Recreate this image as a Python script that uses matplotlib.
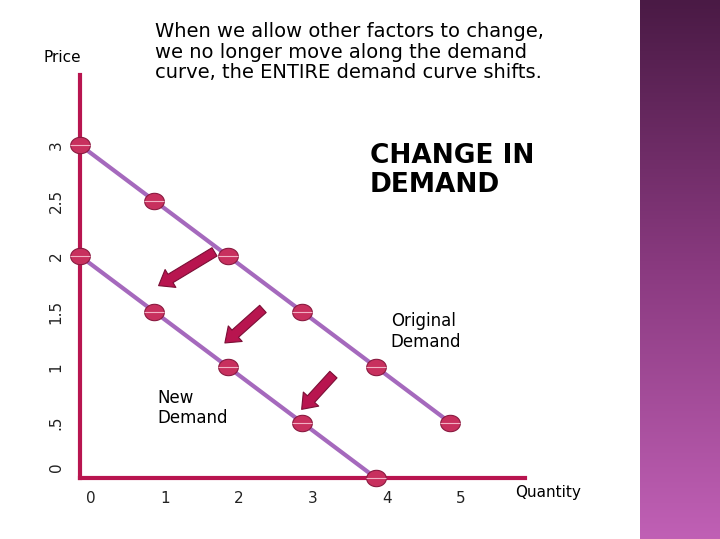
import numpy as np
import matplotlib
matplotlib.use("Agg")
from matplotlib import pyplot as plt
from matplotlib.path import Path

# DATA
orig_q = [0, 1, 2, 3, 4, 5]
orig_p = [3, 2.5, 2, 1.5, 1, 0.5]
new_q = [0, 1, 2, 3, 4]
new_p = [2, 1.5, 1, 0.5, 0]
x_ticks = [0, 1, 2, 3, 4, 5]
y_ticks = [0, 0.5, 1, 1.5, 2, 2.5, 3]
y_labels = ["0", ".5", "1", "1.5", "2", "2.5", "3"]

W, H = 720, 539
fig = plt.figure(figsize=(7.2, 5.39), dpi=100)
fig.patch.set_facecolor("white")

# purple strip on the right
strip = fig.add_axes([640 / W, 0, 80 / W, 1])
grad = np.linspace(0, 1, 256).reshape(-1, 1)
cmap = matplotlib.colors.LinearSegmentedColormap.from_list("p", ["#4a1a45", "#8a3a80", "#c060b5"])
strip.imshow(grad, aspect="auto", cmap=cmap, extent=[0, 1, 0, 1], origin="upper")
strip.axis("off")

ax = fig.add_axes([80 / W, 1 - 478 / H, 445 / W, 403 / H])
ax.set_xlim(0, 445 / 74)
ax.set_ylim(0, 403 / 111)
for s in ["top", "right"]:
    ax.spines[s].set_visible(False)
for s in ["left", "bottom"]:
    ax.spines[s].set_color("#b8154f")
    ax.spines[s].set_linewidth(3)
ax.set_xticks([])
ax.set_yticks([])

# slightly wide ellipse marker
t = np.linspace(0, 2 * np.pi, 60)
ellipse = Path(np.column_stack([1.2 * np.cos(t), np.sin(t)]), closed=True)

line_c = "#a569bd"
dot_c = "#c8305e"
ax.plot(orig_q, orig_p, color=line_c, lw=3, zorder=2)
ax.plot(new_q, new_p, color=line_c, lw=3, zorder=2)
for q, p in [(orig_q, orig_p), (new_q, new_p)]:
    ax.scatter(q, p, s=200, marker=ellipse, color=dot_c, edgecolor="#8a1a40", lw=0.8, zorder=3, clip_on=False)
    ax.scatter(q, p, s=200, marker=(2, 0, 90), color="#f2b0c4", lw=0.8, zorder=4, clip_on=False)

# shift arrows
for tail, head in [((1.85, 2.05), (1.03, 1.72)), ((2.5, 1.54), (1.93, 1.2)), ((3.45, 0.95), (2.97, 0.6))]:
    ax.annotate("", xy=head, xytext=tail,
                arrowprops=dict(arrowstyle="simple,head_width=1.5,head_length=1.0,tail_width=0.7",
                                color="#b8154f", ec="#7a0e35", lw=0.8))

font = "DejaVu Sans"
for x in x_ticks:
    ax.text(x + 0.15, -0.12, str(x), ha="center", va="top", fontsize=11, family=font, color="#222222")
for y, lab in zip(y_ticks, y_labels):
    ax.text(-0.22, y + (0.1 if y == 0 else 0), lab, ha="right", va="center", rotation=90,
            fontsize=11, family=font, color="#222222")
fig.text(62 / W, 1 - 58 / H, "Price", ha="center", va="center", fontsize=11, family=font)
fig.text(548 / W, 1 - 493 / H, "Quantity", ha="center", va="center", fontsize=11, family=font)

fig.text(155 / W, 1 - 22 / H,
         "When we allow other factors to change,\nwe no longer move along the demand\ncurve, the ENTIRE demand curve shifts.",
         ha="left", va="top", fontsize=14, family=font, linespacing=1.1)
fig.text(370 / W, 1 - 143 / H, "CHANGE IN\nDEMAND", ha="left", va="top", fontsize=19,
         weight="bold", family=font, linespacing=1.15)
ax.text(4.2, 1.32, "Original\nDemand", ha="left", va="center", fontsize=12, family=font, linespacing=1.2)
ax.text(1.05, 0.63, "New\nDemand", ha="left", va="center", fontsize=12, family=font, linespacing=1.2)

fig.savefig("out.png", dpi=100)
